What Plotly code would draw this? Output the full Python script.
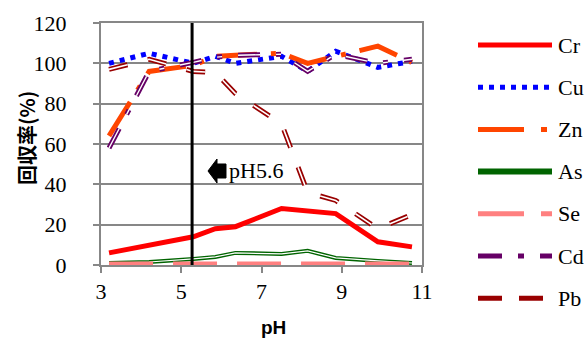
import plotly.graph_objects as go

# ---- data ----
ph = [3.2, 4.2, 5.3, 5.85, 6.35, 7.5, 8.15, 8.85, 9.9, 10.75]
cr = [6, 10, 14, 18, 19, 28, 27, 25.5, 11.5, 9]
cu = [100, 105, 100, 103.5, 100, 103.5, 96, 106, 98, 101]
zn = [64, 96, 99, 103.5, 104, 105, 100, 103.5, 108.5, 100.5]
as_ = [1, 1.5, 3, 4, 6, 5.5, 7, 3.5, 2, 1]
se = [0.5, 0.5, 0.5, 0.5, 0.5, 0.5, 0.5, 0.5, 0.5, 0.5]
cd = [58, 96, 100.5, 103, 104, 104.5, 96, 104.5, 100, 102]
pb = [97, 102, 96, 95.5, 85, 70, 36, 32, 18, 25]

names = ["Cr", "Cu", "Zn", "As", "Se", "Cd", "Pb"]
x_ticks = [3, 5, 7, 9, 11]
y_ticks = [0, 20, 40, 60, 80, 100, 120]
marker_ph = 5.27
note_text = "pH5.6"
x_title = "pH"
y_title = "回収率(%)"

# ---- styles ----
styles = {
    "Cr": dict(color="#FF0000", width=5, dash="solid", inner=None),
    "Cu": dict(color="#0000FF", width=5, dash="5px,6px", inner=None),
    "Zn": dict(color="#FF4500", width=5, dash="40px,14px,5px,14px", inner=None),
    "As": dict(color="#006400", width=4, dash="solid", inner=1.2),
    "Se": dict(color="#FF8080", width=5, dash="44px,20px", inner=None),
    "Cd": dict(color="#660066", width=5, dash="22px,16px,5px,16px", inner=1.4),
    "Pb": dict(color="#990000", width=5, dash="19px,21px", inner=1.6),
}
series = {"Cr": cr, "Cu": cu, "Zn": zn, "As": as_, "Se": se, "Cd": cd, "Pb": pb}

fig = go.Figure()
for n in names:
    s = styles[n]
    fig.add_trace(go.Scatter(x=ph, y=series[n], mode="lines", name=n, showlegend=False,
                             line=dict(color=s["color"], width=s["width"], dash=s["dash"])))
    if s["inner"]:
        fig.add_trace(go.Scatter(x=ph, y=series[n], mode="lines", showlegend=False, hoverinfo="skip",
                                 line=dict(color="white", width=s["inner"], dash=s["dash"])))

W, H = 584, 340
L, R, T, B = 101, 162, 23, 75
pw, ph_ = W - L - R, H - T - B
def px2paper(px, py):
    return (px - L) / pw, (H - B - py) / ph_

shapes = [dict(type="line", xref="x", yref="paper", x0=marker_ph, x1=marker_ph, y0=0, y1=1,
               line=dict(color="black", width=3), layer="above")]

# block arrow for the pH5.6 note (pixel geometry -> paper)
arrow_px = [(208, 171), (217, 159), (217, 164), (226, 164), (226, 178), (217, 178), (217, 183)]
pts = [px2paper(a, b) for a, b in arrow_px]
path = "M " + " L ".join(f"{a:.4f},{b:.4f}" for a, b in pts) + " Z"
shapes.append(dict(type="path", xref="paper", yref="paper", path=path,
                   fillcolor="black", line=dict(color="black", width=1), layer="above"))

annotations = []
tx, ty = px2paper(227, 170)
annotations.append(dict(x=tx, y=ty, xref="paper", yref="paper", text=note_text, showarrow=False,
                        xanchor="left", yanchor="middle",
                        font=dict(family="Liberation Serif", size=22, color="black")))
ax_, ay_ = px2paper(273, 327)
annotations.append(dict(x=ax_, y=ay_, xref="paper", yref="paper", text=x_title, showarrow=False,
                        xanchor="center", yanchor="middle",
                        font=dict(family="Liberation Sans", size=19, color="black", weight="bold")))
bx, by = px2paper(26, 138)
annotations.append(dict(x=bx, y=by, xref="paper", yref="paper", text=y_title, showarrow=False,
                        textangle=-90, xanchor="center", yanchor="middle",
                        font=dict(family="Noto Sans CJK JP", size=20, color="black", weight="bold")))

leg_x0, leg_x1, leg_y0, leg_dy = 478, 552, 45, 42.2
leg_dash = {"Cr": "solid", "Cu": "5px,6px", "Zn": "46px,17px,6px,17px", "As": "solid",
            "Se": "46px,17px", "Cd": "24px,16px,6px,16px", "Pb": "24px,17px"}
leg_w = {"Cr": 5, "Cu": 5, "Zn": 5, "As": 6, "Se": 5, "Cd": 5, "Pb": 5}
for i, n in enumerate(names):
    py = leg_y0 + i * leg_dy
    xa, ya = px2paper(leg_x0, py)
    xb, _ = px2paper(leg_x1, py)
    shapes.append(dict(type="line", xref="paper", yref="paper", x0=xa, x1=xb, y0=ya, y1=ya,
                       line=dict(color=styles[n]["color"], width=leg_w[n], dash=leg_dash[n])))
    xt, _ = px2paper(556, py)
    annotations.append(dict(x=xt, y=ya, xref="paper", yref="paper", text=n, showarrow=False,
                            xanchor="left", yanchor="middle",
                            font=dict(family="Liberation Serif", size=22, color="black")))

grid = "#878787"
fig.update_layout(
    width=W, height=H, margin=dict(l=L, r=R, t=T, b=B),
    paper_bgcolor="white", plot_bgcolor="white",
    shapes=shapes, annotations=annotations, showlegend=False,
    xaxis=dict(range=[3, 11], tickvals=x_ticks, showgrid=False, zeroline=False,
               showline=True, linecolor=grid, linewidth=2, mirror=True,
               ticks="outside", ticklen=6, tickwidth=2, tickcolor=grid, layer="below traces",
               tickfont=dict(family="Liberation Serif", size=22, color="black")),
    yaxis=dict(range=[0, 120], tickvals=y_ticks, showgrid=True, gridcolor=grid, gridwidth=2,
               zeroline=False, showline=True, linecolor=grid, linewidth=2, mirror=True,
               ticks="outside", ticklen=6, tickwidth=2, tickcolor=grid, layer="below traces",
               ticklabelstandoff=22,
               tickfont=dict(family="Liberation Serif", size=22, color="black")),
)
fig.write_html("out.html")
